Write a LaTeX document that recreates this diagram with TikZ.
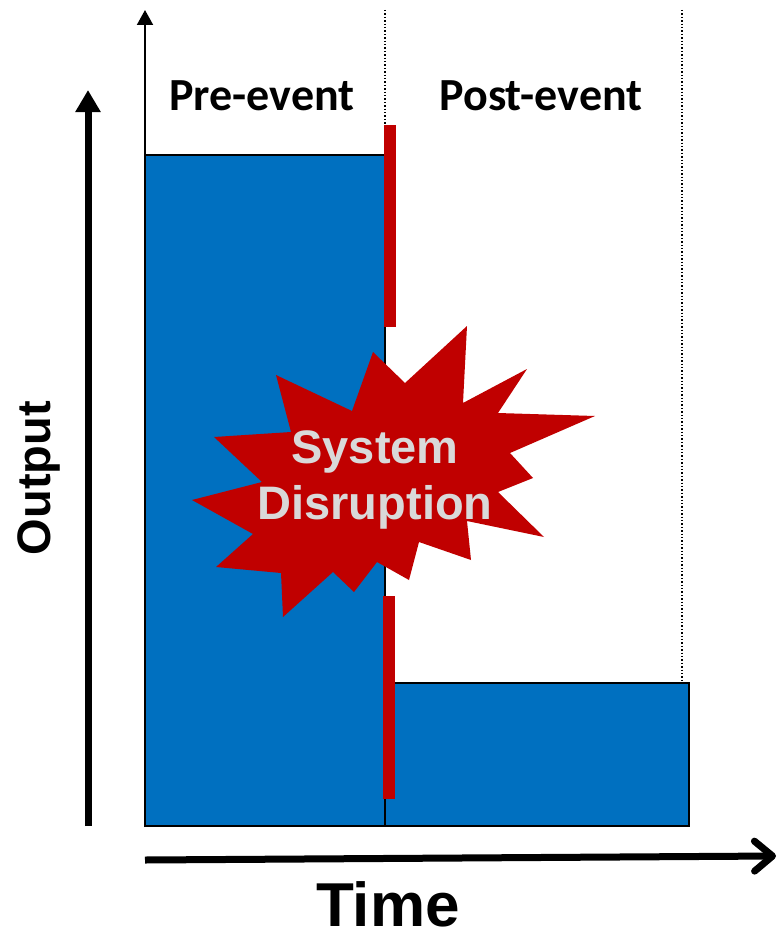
\documentclass[tikz,border=0pt]{standalone}
\usepackage{fontspec}
\setmainfont{Liberation Sans}
\newfontfamily\calibrifont{Carlito}
\usetikzlibrary{arrows.meta}
\definecolor{barblue}{HTML}{0070C0}
\definecolor{burstred}{HTML}{C00000}
\definecolor{bursttext}{HTML}{D9D9D9}
\begin{document}
\begin{tikzpicture}[x=1pt,y=-1pt,
  barbox/.style={fill=barblue,draw=black,line width=1.5pt},
  redbar/.style={fill=burstred,draw=none},
  divider/.style={draw=black,line width=1.4pt,dotted},
  phaselabel/.style={font=\calibrifont\bfseries\fontsize{46}{50}\selectfont,anchor=base,inner sep=0pt},
  axislabel/.style={font=\bfseries,anchor=base,inner sep=0pt},
  bigaxis/.style={line width=7pt},
]
\useasboundingbox (0,0) rectangle (778,934);
% bars
\fill[white] (0,0) rectangle (778,934);
\draw[barbox] (145,155) rectangle (385,826);
\draw[barbox] (385,683) rectangle (689,826);
% dotted dividers
\coordinate (d1top) at (385,10);
\coordinate (d1bot) at (385,125);
\coordinate (d2top) at (682,10);
\coordinate (d2bot) at (682,683);
\draw[divider] (d1top) -- (d1bot);
\draw[divider] (d2top) -- (d2bot);
% thin axis
\coordinate (ax0) at (145,827);
\coordinate (ax1) at (145,10);
\draw[line width=2pt,-{Triangle[length=15pt,width=16pt]}] (ax0) -- (ax1);
% red bars
\fill[redbar] (384,125) rectangle (396,327);
\fill[redbar] (383,596) rectangle (395,799);
% output arrow
\coordinate (out0) at (88,826);
\coordinate (out1) at (88,90);
\draw[bigaxis,-{Triangle[length=22pt,width=24pt]}] (out0) -- (out1);
% time arrow
\coordinate (t0) at (145,860);
\coordinate (t1) at (776,856);
\draw[bigaxis,-{Straight Barb[length=18pt,width=30pt,round]}] (t0) -- (t1);
% labels
\node[phaselabel] (pre) at (262,110) {Pre-event};
\node[phaselabel] (post) at (541,110) {Post-event};
\node[axislabel,font=\bfseries\fontsize{62}{70}\selectfont] (time) at (388,926) {Time};
\node[axislabel,rotate=90,font=\bfseries\fontsize{47}{52}\selectfont] (output) at (50,478) {Output};
% starburst
\fill[burstred] (467,326) -- (463,403) -- (527,369) -- (498,413) -- (595,416)
  -- (510,453) -- (533,478) -- (498,492) -- (544,537) -- (467,521)
  -- (471,560) -- (419,542) -- (409,580) -- (377,562) -- (354,592)
  -- (333,572) -- (283,617) -- (281,573) -- (216,567) -- (253,534)
  -- (192,500) -- (262,482) -- (214,437) -- (291,432) -- (276,375)
  -- (352,411) -- (373,352) -- (405,383) -- cycle;
\node[font=\bfseries\fontsize{47}{56}\selectfont,text=bursttext,align=center,anchor=base,inner sep=0pt] (burst) at (375,519) {System\\Disruption};
\end{tikzpicture}
\end{document}
